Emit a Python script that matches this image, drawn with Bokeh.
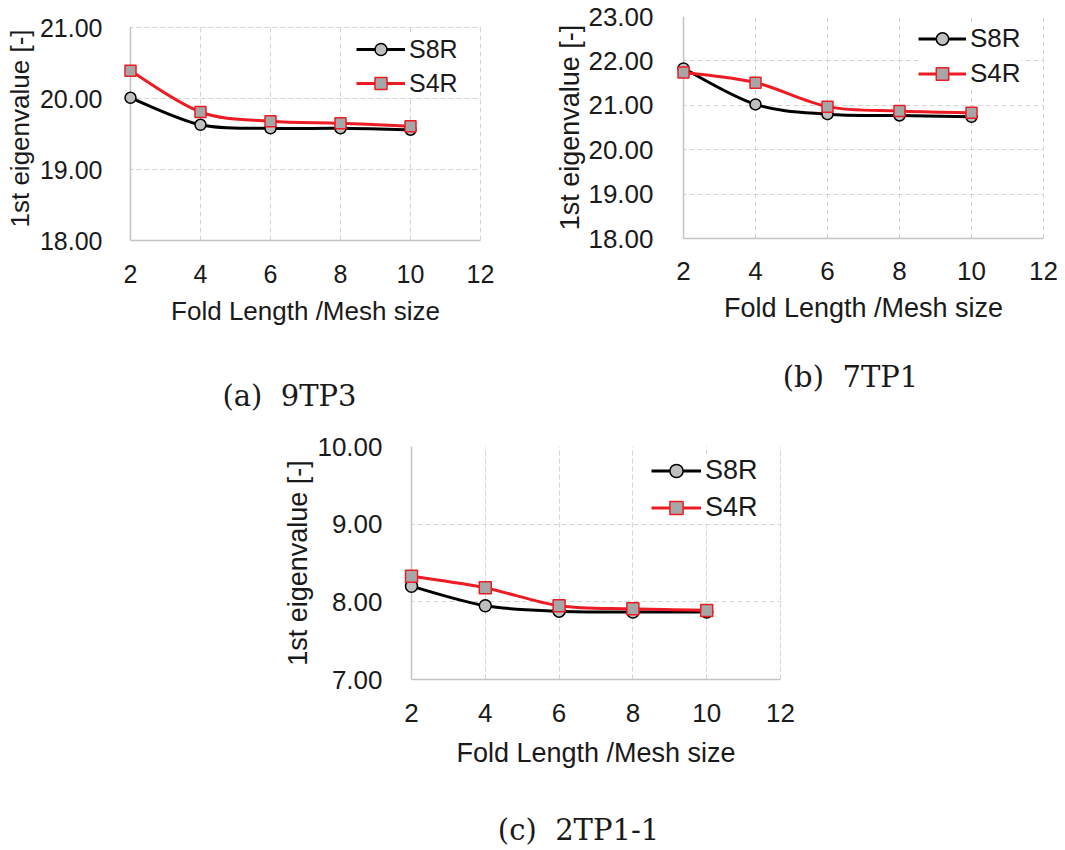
import numpy as np
from bokeh.plotting import figure
from bokeh.models import (Range1d, SingleIntervalTicker, NumeralTickFormatter, Legend,
                          LegendItem, Span, BoxAnnotation, ColumnDataSource, Spacer,
                          LinearAxis, FixedTicker)
from bokeh.layouts import row, column
from bokeh.embed import file_html
from bokeh.resources import INLINE

# ---------------- data ----------------
fold_length = [2, 4, 6, 8, 10]
series_names = ["S8R", "S4R"]
a_s8r = [20.01, 19.63, 19.58, 19.58, 19.56]
a_s4r = [20.39, 19.81, 19.68, 19.65, 19.61]
b_s8r = [21.83, 21.02, 20.80, 20.77, 20.74]
b_s4r = [21.74, 21.51, 20.97, 20.87, 20.83]
c_s8r = [8.20, 7.95, 7.88, 7.87, 7.87]
c_s4r = [8.33, 8.18, 7.95, 7.91, 7.89]
captions = ["(a)  9TP3", "(b)  7TP1", "(c)  2TP1-1"]
y_ranges = [(18, 21), (18, 23), (7, 10)]
x_limits = (2, 12)
x_title = "Fold Length /Mesh size"
y_title = "1st eigenvalue [-]"

# ---------------- styles ----------------
SANS = "Liberation Sans"
SERIF = "DejaVu Serif"
TXT = "#1a1a1a"
GRID = "#d4d4d4"
AXIS = "#c4c4c4"
BLACK = "#000000"
RED = "#ed1c24"

H1 = 416  # height of the first row

# layout constants (page pixel positions)
LAYOUTS = [
    dict(fig_left=0, fig_top=0, mbl=120, fig_w=545, fig_h=H1, x2=130, x12=480, ytop=27, ybot=240,
         frame_top=16, tick_fs=25, title_fs=26, leg_fs=25, xls=20, xts=10, yls=14, yts=2,
         row1=47, pitch=34, glyph_left=358, glyph_w=49, cap=(289, 396), cap_s=50, msize=11),
    dict(fig_left=545, fig_top=0, mbl=128, fig_w=518, fig_h=H1, x2=683, x12=1043, ytop=16, ybot=238,
         frame_top=16, tick_fs=26, title_fs=27, leg_fs=26, xls=19, xts=10, yls=16, yts=0,
         row1=36, pitch=35, glyph_left=920, glyph_w=48, cap=(850, 377), cap_s=34, msize=11),
    dict(fig_left=268, fig_top=H1, mbl=133, fig_w=532, fig_h=430, x2=411, x12=780, ytop=446, ybot=679,
         frame_top=446, tick_fs=26, title_fs=27, leg_fs=27, xls=20, xts=13, yls=15, yts=1,
         row1=468, pitch=37, glyph_left=653, glyph_w=50, cap=(578, 830), cap_s=42, msize=12),
]


def bezier_data(x, y):
    x = np.asarray(x, float)
    y = np.asarray(y, float)
    xp = np.concatenate([[x[0]], x, [x[-1]]])
    yp = np.concatenate([[y[0]], y, [y[-1]]])
    tx = (xp[2:] - xp[:-2]) / 6.0
    ty = (yp[2:] - yp[:-2]) / 6.0
    return dict(x0=x[:-1], y0=y[:-1], x1=x[1:], y1=y[1:],
                cx0=x[:-1] + tx[:-1], cy0=y[:-1] + ty[:-1],
                cx1=x[1:] - tx[1:], cy1=y[1:] - ty[1:])


def make_panel(s8, s4, yr, caption, L):
    pad = 10
    frame_left = L["x2"] - pad
    frame_w = L["x12"] - L["x2"] + 2 * pad
    frame_h = L["ybot"] - L["frame_top"]
    real_h = L["ybot"] - L["ytop"]
    mbl = L["mbl"]
    mbr = L["fig_w"] - mbl - frame_w
    mbt = L["frame_top"] - L["fig_top"]
    mbb = L["fig_h"] - mbt - frame_h
    xspan = x_limits[1] - x_limits[0]
    ppu_x = (L["x12"] - L["x2"]) / xspan
    ppu_y = real_h / (yr[1] - yr[0])
    ext = L["ytop"] - L["frame_top"]

    p = figure(frame_width=frame_w, frame_height=frame_h,
               min_border_left=mbl, min_border_right=mbr,
               min_border_top=mbt, min_border_bottom=mbb,
               x_range=Range1d(x_limits[0] - pad / ppu_x, x_limits[1] + pad / ppu_x),
               y_range=Range1d(yr[0], yr[1] + ext / ppu_y),
               output_backend="svg", toolbar_location=None,
               background_fill_color="white", border_fill_color="white")
    p.outline_line_color = None

    # grid
    for g in (p.xgrid[0], p.ygrid[0]):
        g.grid_line_color = GRID
        g.grid_line_dash = "5 3"
        g.grid_line_width = 1
    p.xgrid[0].ticker = SingleIntervalTicker(interval=2)
    p.ygrid[0].ticker = SingleIntervalTicker(interval=1)

    # hide grid stubs outside the plotted area, vertical axis line at x=2
    p.add_layout(BoxAnnotation(right=x_limits[0], fill_color="white", fill_alpha=1.0,
                               line_alpha=0, level="underlay"))
    p.add_layout(BoxAnnotation(left=x_limits[1] + 0.6 / ppu_x, fill_color="white",
                               fill_alpha=1.0, line_alpha=0, level="underlay"))
    p.add_layout(Span(location=x_limits[0], dimension="height", line_color=AXIS,
                      line_width=1.5, level="underlay"))
    if ext > 0:
        p.add_layout(BoxAnnotation(bottom=yr[1] + 0.6 / ppu_y, fill_color="white",
                                   fill_alpha=1.0, line_alpha=0, level="underlay"))

    # axes
    xa = p.xaxis[0]
    xa.ticker = SingleIntervalTicker(interval=2)
    xa.bounds = x_limits
    xa.axis_line_color = AXIS
    xa.axis_line_width = 1.5
    xa.major_tick_line_color = None
    xa.minor_tick_line_color = None
    xa.major_tick_out = 0
    xa.major_label_standoff = L["xls"]
    xa.major_label_text_font = SANS
    xa.major_label_text_font_size = f"{L['tick_fs']}px"
    xa.major_label_text_color = TXT
    xa.axis_label = x_title
    xa.axis_label_standoff = L["xts"]
    xa.axis_label_text_font = SANS
    xa.axis_label_text_font_size = f"{L['title_fs']}px"
    xa.axis_label_text_font_style = "normal"
    xa.axis_label_text_color = TXT

    ya = p.yaxis[0]
    ya.ticker = SingleIntervalTicker(interval=1)
    ya.formatter = NumeralTickFormatter(format="0.00")
    ya.axis_line_color = None
    ya.major_tick_line_color = None
    ya.minor_tick_line_color = None
    ya.major_tick_out = 0
    ya.major_label_standoff = L["yls"]
    ya.major_label_text_font = SANS
    ya.major_label_text_font_size = f"{L['tick_fs']}px"
    ya.major_label_text_color = TXT
    ya.axis_label = y_title
    ya.axis_label_standoff = L["yts"]
    ya.axis_label_text_font = SANS
    ya.axis_label_text_font_size = f"{L['title_fs']}px"
    ya.axis_label_text_font_style = "normal"
    ya.axis_label_text_color = TXT

    # caption: a second bottom axis carrying one labelled tick
    cx = round(x_limits[0] + (L["cap"][0] - L["x2"]) / ppu_x, 3)
    cap_axis = LinearAxis(ticker=FixedTicker(ticks=[cx]),
                          major_label_overrides={cx: caption.replace("  ", "\u00a0\u00a0")},
                          axis_line_color=None, major_tick_line_color=None,
                          minor_tick_line_color=None, major_tick_out=0, major_tick_in=0,
                          minor_tick_out=0, minor_tick_in=0,
                          major_label_standoff=L["cap_s"],
                          major_label_text_font=SERIF, major_label_text_font_size="29px",
                          major_label_text_color=TXT)
    p.add_layout(cap_axis, "below")

    # series
    src8 = ColumnDataSource(dict(x=fold_length, y=s8))
    src4 = ColumnDataSource(dict(x=fold_length, y=s4))
    bz8 = p.bezier(source=ColumnDataSource(bezier_data(fold_length, s8)),
                   x0="x0", y0="y0", x1="x1", y1="y1", cx0="cx0", cy0="cy0",
                   cx1="cx1", cy1="cy1", line_color=BLACK, line_width=3)
    sc8 = p.scatter("x", "y", source=src8, marker="circle", size=L["msize"],
                    fill_color="#bfbfbf", line_color=BLACK, line_width=1.5)
    bz4 = p.bezier(source=ColumnDataSource(bezier_data(fold_length, s4)),
                   x0="x0", y0="y0", x1="x1", y1="y1", cx0="cx0", cy0="cy0",
                   cx1="cx1", cy1="cy1", line_color=RED, line_width=3)
    sc4 = p.scatter("x", "y", source=src4, marker="square", size=L["msize"],
                    fill_color="#a6a6a6", line_color=RED, line_width=1.5)

    # legend
    sp = 4
    h = L["pitch"] - sp
    lpad = 2
    leg_top = L["row1"] - h / 2 - lpad
    leg_h = 2 * lpad + 2 * h + sp
    leg_bottom = leg_top + leg_h
    vx = L["glyph_left"] - lpad - frame_left
    vy = L["ybot"] - leg_bottom
    legend = Legend(items=[LegendItem(label=series_names[0], renderers=[bz8, sc8]),
                           LegendItem(label=series_names[1], renderers=[bz4, sc4])],
                    location=(vx, vy), padding=lpad, spacing=sp, margin=0,
                    glyph_width=L["glyph_w"], glyph_height=h, label_height=h,
                    label_standoff=4, border_line_color=None,
                    background_fill_color="white", background_fill_alpha=1.0,
                    label_text_font=SANS, label_text_font_size=f"{L['leg_fs']}px",
                    label_text_color=TXT)
    p.add_layout(legend)
    return p


pa = make_panel(a_s8r, a_s4r, y_ranges[0], captions[0], LAYOUTS[0])
pb = make_panel(b_s8r, b_s4r, y_ranges[1], captions[1], LAYOUTS[1])
pc = make_panel(c_s8r, c_s4r, y_ranges[2], captions[2], LAYOUTS[2])

spacer = Spacer(width=LAYOUTS[2]["fig_left"], height=LAYOUTS[2]["fig_h"])
layout = column(row(pa, pb), row(spacer, pc))

open("out.html", "w").write(file_html(layout, INLINE))
